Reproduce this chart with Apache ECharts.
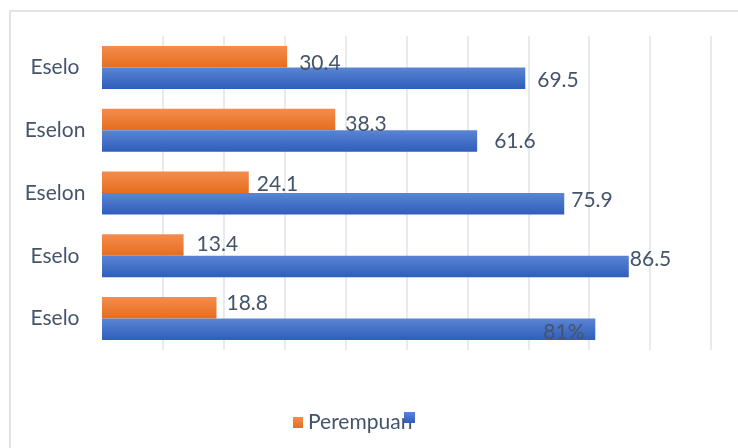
<!DOCTYPE html>
<html>
<head>
<meta charset="utf-8">
<script src="https://cdn.jsdelivr.net/npm/echarts@6/dist/echarts.min.js"></script>
<style>
html,body{margin:0;padding:0;background:#fff;}
#chart{width:738px;height:448px;}
</style>
</head>
<body>
<div id="chart"></div>
<script>
const categories = ['Eselo', 'Eselon', 'Eselon', 'Eselo', 'Eselo'];
const perempuan = [30.4, 38.3, 24.1, 13.4, 18.8];
const lakiLaki = [69.5, 61.6, 75.9, 86.5, 81];
const perempuanLabels = ['30.4', '38.3', '24.1', '13.4', '18.8'];
const lakiLakiLabels = ['69.5', '61.6', '75.9', '86.5', '81%'];
const seriesNames = ['Perempuan', 'Laki-laki'];

// label placement styling (pixel offsets from bar end)
const orangeLabelOffsets = [[12, 7], [10, 5], [8, 2], [13, -1], [10, -5]];
const blueLabelOffsets = [[12, 2], [17, 0], [7, -4], [1, -7], [-52, 3]];

const FONT = 'Lato, "Open Sans", sans-serif';
const TEXT = '#44546a';

function buildData(values, labels, offsets) {
  return values.map((v, i) => ({
    value: v,
    label: { offset: offsets[i], formatter: labels[i] }
  }));
}

const orangeFill = new echarts.graphic.LinearGradient(0, 0, 0, 1, [
  { offset: 0, color: '#f48c4e' }, { offset: 1, color: '#e56e1e' }
]);
const blueFill = new echarts.graphic.LinearGradient(0, 0, 0, 1, [
  { offset: 0, color: '#5b85d3' }, { offset: 1, color: '#2e5ebc' }
]);

const chart = echarts.init(document.getElementById('chart'));
chart.setOption({
  animation: false,
  textStyle: { fontFamily: FONT },
  graphic: [{
    type: 'rect',
    shape: { x: 10, y: 11, width: 800, height: 500 },
    style: { fill: 'none', stroke: '#dfe4eb', lineWidth: 2 },
    silent: true
  }],
  grid: { left: 102, right: 27, top: 36, bottom: 98 },
  legend: [{
    data: [seriesNames[0]],
    left: 293, top: 412, padding: 0,
    itemWidth: 10, itemHeight: 11,
    icon: 'rect',
    textStyle: { fontSize: 21, color: TEXT, fontFamily: FONT }
  }, {
    data: [seriesNames[1]],
    left: 404, top: 412, padding: 0,
    itemWidth: 11, itemHeight: 11,
    icon: 'rect',
    formatter: () => '',
    textStyle: { fontSize: 21, color: TEXT, fontFamily: FONT }
  }],
  xAxis: {
    type: 'value', min: 0, max: 100, interval: 10,
    axisLabel: { show: false },
    axisLine: { show: false },
    axisTick: { show: false },
    splitLine: { show: true, showMinLine: false, lineStyle: { color: '#dfe3ea', width: 1.5 } }
  },
  yAxis: {
    type: 'category', data: categories, inverse: true,
    axisLine: { show: false },
    axisTick: { show: false },
    axisLabel: { fontSize: 21, color: TEXT, fontFamily: FONT, align: 'center', margin: 47, padding: [6, 0, 0, 0] }
  },
  series: [{
    name: seriesNames[0], type: 'bar',
    data: buildData(perempuan, perempuanLabels, orangeLabelOffsets),
    barWidth: 21.5, barGap: '0%',
    itemStyle: { color: orangeFill },
    label: { show: true, position: 'right', distance: 0, fontSize: 21, color: TEXT, fontFamily: FONT }
  }, {
    name: seriesNames[1], type: 'bar',
    data: buildData(lakiLaki, lakiLakiLabels, blueLabelOffsets),
    barWidth: 21.5, barGap: '0%',
    itemStyle: { color: blueFill },
    label: { show: true, position: 'right', distance: 0, fontSize: 21, color: TEXT, fontFamily: FONT }
  }]
});
</script>
</body>
</html>
